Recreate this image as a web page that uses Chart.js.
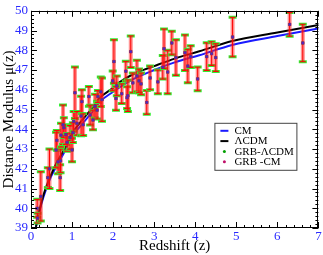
<!DOCTYPE html>
<html>
<head>
<meta charset="utf-8">
<script src="https://cdn.jsdelivr.net/npm/chart.js@4.4.1/dist/chart.umd.min.js"></script>
<style>
  html, body { margin: 0; padding: 0; background: #fff; }
  #wrap { width: 323px; height: 255px; }
</style>
</head>
<body>
<div id="wrap"><canvas id="muChart" width="323" height="255"></canvas></div>
<script>
// GRB Hubble diagram data
const grbZ = [0.15, 0.16, 0.24, 0.41, 0.45, 0.61, 0.63, 0.66, 0.71, 0.72, 0.73, 0.78, 0.80, 0.85, 0.88,
  0.95, 1.00, 1.02, 1.04, 1.07, 1.12, 1.22, 1.24, 1.27, 1.41, 1.44, 1.51, 1.56, 1.61, 1.63, 1.70, 1.73,
  1.99, 2.02, 2.07, 2.09, 2.21, 2.31, 2.34, 2.36, 2.43, 2.48, 2.58, 2.63, 2.68, 2.82, 2.90, 3.09, 3.21,
  3.24, 3.33, 3.43, 3.53, 3.75, 3.82, 3.89, 4.06, 4.28, 4.40, 4.50, 4.91, 6.30, 6.62];
const grbMu = [40.0, 39.5, 40.6, 41.55, 42.0, 42.95, 43.44, 42.35, 41.55, 42.4, 43.7, 44.23, 44.08, 43.73, 43.34,
  43.59, 42.95, 43.83, 44.4, 45.85, 44.3, 44.67, 45.4, 44.23, 45.66, 44.72, 44.47, 45.17, 44.97, 45.66, 45.9, 45.5,
  46.45, 47.43, 45.56, 46.2, 45.8, 46.94, 45.6, 45.7, 47.93, 46.35, 46.7, 46.45, 46.3, 45.36, 46.6, 46.4, 47.14,
  48.08, 46.9, 48.37, 47.63, 47.88, 47.2, 47.68, 46.55, 47.68, 47.83, 47.63, 48.67, 49.31, 48.37];
const grbErr = [0.45, 0.25, 1.25, 0.5, 1.0, 0.9, 0.5, 0.6, 0.65, 0.6, 0.6, 1.0, 0.5, 0.5, 0.45,
  0.6, 0.6, 0.5, 0.5, 1.3, 0.6, 1.0, 0.6, 0.55, 0.5, 0.5, 0.5, 0.6, 0.45, 0.3, 0.75, 1.1,
  0.5, 1.1, 0.6, 0.5, 0.5, 0.5, 0.55, 0.8, 0.8, 0.5, 0.8, 0.6, 0.55, 0.6, 0.6, 0.6, 0.6,
  1.0, 1.1, 0.6, 0.9, 0.9, 0.85, 0.55, 0.6, 0.7, 0.6, 0.7, 1.0, 0.6, 0.95];

// model curves
const lcdmZ = [0.12, 0.2, 0.3, 0.4, 0.5, 0.6, 0.8, 1.0, 1.2, 1.5, 1.68, 2.0, 2.17, 2.5, 3.0, 3.5, 4.1, 4.9, 6.0, 7.0];
const lcdmMu = [39.05, 39.85, 40.65, 41.25, 41.75, 42.2, 42.95, 43.8, 44.35, 45.1, 45.6, 46.1, 46.4, 46.8, 47.2, 47.58, 47.95, 48.47, 48.9, 49.28];
const cmZ = [0.12, 0.2, 0.3, 0.4, 0.5, 0.6, 0.8, 1.0, 1.2, 1.5, 1.68, 2.0, 2.17, 2.5, 3.0, 3.5, 4.1, 4.9, 6.0, 7.0];
const cmMu = [39.05, 39.8, 40.55, 41.15, 41.65, 42.05, 42.8, 43.65, 44.15, 44.9, 45.4, 45.9, 46.15, 46.55, 47.0, 47.39, 47.75, 48.27, 48.72, 49.1];

const xTicks = [0, 1, 2, 3, 4, 5, 6, 7];
const yTicks = [39, 40, 41, 42, 43, 44, 45, 46, 47, 48, 49, 50];

const legendItems = [
  { text: 'CM', kind: 'line', color: '#1a1aff' },
  { text: 'ΛCDM', kind: 'line', color: '#000000' },
  { text: 'GRB-ΛCDM', kind: 'dot', color: '#00a000' },
  { text: 'GRB -CM', kind: 'dot', color: '#c0106a' }
];

const serif = '"Liberation Serif", "DejaVu Serif", serif';

function pts(xs, ys) {
  return xs.map((x, i) => ({ x: x, y: ys[i] }));
}

// error bars drawn right before the GRB points
const errorBars = {
  id: 'errorBars',
  beforeDatasetDraw(chart, args) {
    if (args.index !== 2) return;
    const ctx = chart.ctx;
    const xs = chart.scales.x, ys = chart.scales.y;
    ctx.save();
    ctx.beginPath();
    ctx.rect(chart.chartArea.left, chart.chartArea.top, chart.chartArea.width, chart.chartArea.height);
    ctx.clip();
    grbZ.forEach((z, i) => {
      const px = xs.getPixelForValue(z);
      const yt = ys.getPixelForValue(grbMu[i] + grbErr[i]);
      const yb = ys.getPixelForValue(grbMu[i] - grbErr[i]);
      // green caps (GRB-LCDM)
      ctx.strokeStyle = '#33ee33';
      ctx.lineWidth = 3;
      ctx.beginPath();
      ctx.moveTo(px - 4, yt); ctx.lineTo(px + 4, yt);
      ctx.moveTo(px - 4, yb); ctx.lineTo(px + 4, yb);
      ctx.stroke();
      // wide pale red bar
      ctx.strokeStyle = 'rgba(255,40,40,0.5)';
      ctx.lineWidth = 4;
      ctx.beginPath();
      ctx.moveTo(px, yt); ctx.lineTo(px, yb);
      ctx.stroke();
      // thin red bar + caps (GRB-CM)
      ctx.strokeStyle = '#ff0000';
      ctx.lineWidth = 1;
      ctx.beginPath();
      ctx.moveTo(px, yt); ctx.lineTo(px, yb);
      ctx.moveTo(px - 3, yt); ctx.lineTo(px + 3, yt);
      ctx.moveTo(px - 3, yb); ctx.lineTo(px + 3, yb);
      ctx.stroke();
    });
    ctx.restore();
  }
};

// frame, inward ticks and the legend box
const frameAndLegend = {
  id: 'frameAndLegend',
  afterDraw(chart) {
    const ctx = chart.ctx;
    const a = chart.chartArea;
    const xs = chart.scales.x, ys = chart.scales.y;
    ctx.save();
    ctx.strokeStyle = '#000';
    ctx.lineWidth = 1;
    ctx.strokeRect(Math.round(a.left) + 0.5, Math.round(a.top) + 0.5, Math.round(a.width) - 1, Math.round(a.height) - 1);
    ctx.beginPath();
    for (let k = 0; k <= 35; k++) {
      const v = k * 0.2;
      const px = Math.round(xs.getPixelForValue(v)) + 0.5;
      const len = k % 5 === 0 ? 6 : 3;
      ctx.moveTo(px, a.bottom); ctx.lineTo(px, a.bottom - len);
      ctx.moveTo(px, a.top); ctx.lineTo(px, a.top + len);
    }
    for (let k = 0; k <= 55; k++) {
      const v = 39 + k * 0.2;
      const py = Math.round(ys.getPixelForValue(v)) + 0.5;
      const len = k % 5 === 0 ? 6 : 3;
      ctx.moveTo(a.left, py); ctx.lineTo(a.left + len, py);
      ctx.moveTo(a.right, py); ctx.lineTo(a.right - len, py);
    }
    ctx.stroke();

    // legend
    const bx = a.right - 104, by = a.top + 112, bw = 82, bh = 47;
    ctx.fillStyle = '#fff';
    ctx.fillRect(bx, by, bw, bh);
    ctx.strokeStyle = '#444';
    ctx.strokeRect(bx + 0.5, by + 0.5, bw, bh);
    ctx.font = '11px ' + serif;
    ctx.textBaseline = 'middle';
    legendItems.forEach((it, i) => {
      const cy = by + 8 + i * 10.3;
      if (it.kind === 'line') {
        ctx.strokeStyle = it.color;
        ctx.lineWidth = 2;
        ctx.beginPath();
        ctx.moveTo(bx + 6, cy); ctx.lineTo(bx + 14, cy);
        ctx.stroke();
      } else {
        ctx.fillStyle = it.color;
        ctx.beginPath();
        ctx.arc(bx + 10, cy, 1.5, 0, Math.PI * 2);
        ctx.fill();
      }
      ctx.fillStyle = '#000';
      ctx.fillText(it.text, bx + 20, cy + 0.5);
    });
    ctx.restore();
  }
};

new Chart(document.getElementById('muChart').getContext('2d'), {
  type: 'scatter',
  data: {
    datasets: [
      {
        label: 'CM',
        type: 'line',
        data: pts(cmZ, cmMu),
        borderColor: '#1a1aff',
        borderWidth: 2,
        pointRadius: 0,
        tension: 0.4,
        cubicInterpolationMode: 'monotone',
        fill: false,
        order: 4
      },
      {
        label: 'ΛCDM',
        type: 'line',
        data: pts(lcdmZ, lcdmMu),
        borderColor: '#000000',
        borderWidth: 2,
        pointRadius: 0,
        tension: 0.4,
        cubicInterpolationMode: 'monotone',
        fill: false,
        order: 3
      },
      {
        label: 'GRB-ΛCDM',
        data: pts(grbZ, grbMu),
        pointStyle: 'rect',
        pointRadius: 2,
        backgroundColor: '#00a000',
        borderWidth: 0,
        order: 2
      },
      {
        label: 'GRB -CM',
        data: pts(grbZ, grbMu),
        pointStyle: 'rect',
        pointRadius: 1.8,
        backgroundColor: '#3a2ad0',
        borderColor: '#b01070',
        borderWidth: 0.6,
        order: 1
      }
    ]
  },
  options: {
    responsive: false,
    animation: false,
    clip: false,
    layout: { padding: { top: 5, right: 4, left: 0, bottom: 0 } },
    plugins: {
      legend: { display: false },
      tooltip: { enabled: false }
    },
    scales: {
      x: {
        type: 'linear',
        min: 0,
        max: 7,
        afterBuildTicks: (s) => { s.ticks = xTicks.map(v => ({ value: v })); },
        afterFit: (s) => { s.height = 27; },
        grid: { display: false, drawTicks: false },
        border: { display: false },
        ticks: { color: '#2a2aff', font: { family: serif, size: 13 }, padding: 1 },
        title: { display: true, text: 'Redshift (z)', color: '#000', font: { family: serif, size: 15 }, padding: { top: 0, bottom: 0 } }
      },
      y: {
        type: 'linear',
        min: 39,
        max: 50,
        afterBuildTicks: (s) => { s.ticks = yTicks.map(v => ({ value: v })); },
        afterFit: (s) => { s.width = 31; },
        grid: { display: false, drawTicks: false },
        border: { display: false },
        ticks: { color: '#2a2aff', font: { family: serif, size: 13 }, padding: 3 },
        title: { display: true, text: 'Distance Modulus μ(z)', color: '#000', font: { family: serif, size: 15 }, padding: { top: 0, bottom: 0 } }
      }
    }
  },
  plugins: [errorBars, frameAndLegend]
});
</script>
</body>
</html>
